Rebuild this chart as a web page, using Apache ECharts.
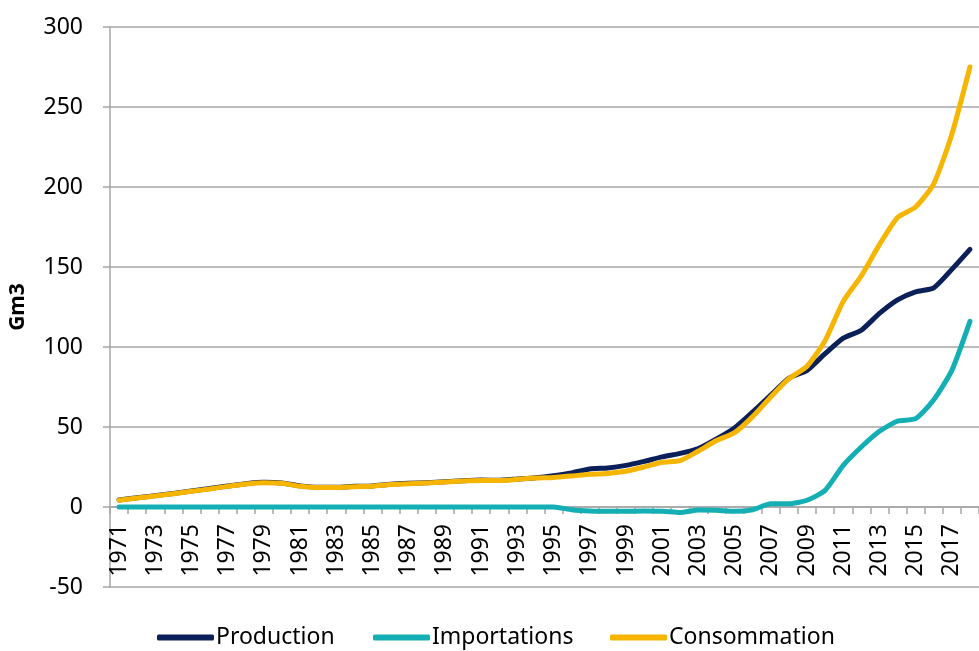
<!DOCTYPE html>
<html>
<head>
<meta charset="utf-8">
<script src="https://cdn.jsdelivr.net/npm/echarts@6/dist/echarts.min.js"></script>
<style>html,body{margin:0;padding:0;background:#fff}#c{width:979px;height:651px}</style>
</head>
<body>
<div id="c"></div>
<script>
const years = [];
for (let y = 1971; y <= 2018; y++) years.push(String(y));

const production = [4.4,5.8,7.1,8.5,10.0,11.5,13.1,14.6,15.4,15.0,13.2,12.4,12.4,12.9,13.2,14.2,14.8,15.2,15.8,16.4,16.8,16.7,17.5,18.3,19.6,21.3,23.8,24.4,26.0,28.5,31.3,33.5,36.5,42.5,49.4,59.4,70.0,80.5,85.4,95.8,105.5,110.5,121.0,129.5,134.5,137.0,148.5,161.0];
const importations = [0,0,0,0,0,0,0,0,0,0,0,0,0,0,0,0,0,0,0,0,0,0,0,0,0,-1.7,-2.5,-2.7,-2.7,-2.5,-2.7,-3.5,-1.8,-2.0,-2.7,-1.7,2.0,2.0,4.2,10.4,26.0,37.5,47.3,53.7,55.2,67.0,85.4,116.0];
const consommation = [4.2,5.6,6.9,8.3,9.8,11.3,12.9,14.4,15.2,14.8,13.0,12.2,12.2,12.7,13.0,14.0,14.6,15.0,15.6,16.2,16.5,16.5,17.3,18.1,18.5,19.4,20.4,21.0,22.3,25.0,28.0,29.0,35.0,41.5,46.5,56.5,68.8,80.2,88.0,104.0,128.5,144.5,164.0,181.0,187.5,202.0,233.0,275.0];

const names = ['Production','Importations','Consommation'];
const colors = ['#0b2058','#13afb4','#f6b500'];
const legendLeft = [157, 373, 610];
const FONT = 'Noto Sans';

const chart = echarts.init(document.getElementById('c'));
const mk = (name, data, color) => ({
  name, type: 'line', data, smooth: 0.2, showSymbol: false, symbol: 'none',
  lineStyle: { width: 5, color, cap: 'round', join: 'round' },
  itemStyle: { color }
});
chart.setOption({
  animation: false,
  textStyle: { fontFamily: FONT },
  grid: { left: 107, top: 27, width: 878, height: 560, containLabel: false },
  legend: names.map((n, i) => ({
    data: [n], left: legendLeft[i], top: 626, padding: 0,
    itemWidth: 57, itemHeight: 6, icon: 'roundRect',
    textStyle: { fontSize: 23, color: '#000', fontFamily: FONT, padding: [0,0,0,-3] }
  })),
  xAxis: {
    type: 'category', data: years, boundaryGap: true, position: 'bottom', offset: -80,
    axisLine: { onZero: false, lineStyle: { color: '#a6a6a6', width: 1.5 } },
    axisTick: { show: true, interval: 0, length: 7, lineStyle: { color: '#a6a6a6', width: 1.5 } },
    axisLabel: { interval: 1, rotate: 90, fontSize: 23, color: '#000', fontFamily: FONT, margin: 17 },
    splitLine: { show: false }
  },
  yAxis: {
    type: 'value', min: -50, max: 300, interval: 50,
    name: 'Gm3', nameLocation: 'middle', nameGap: 81, nameRotate: 90,
    nameTextStyle: { fontSize: 21, fontWeight: 'bold', color: '#000', fontFamily: FONT },
    axisLine: { show: true, lineStyle: { color: '#a6a6a6', width: 1.5 } },
    axisTick: { show: true, length: 7, lineStyle: { color: '#a6a6a6', width: 1.5 } },
    axisLabel: { fontSize: 23, color: '#000', fontFamily: FONT, margin: 27 },
    splitLine: { show: true, lineStyle: { color: '#a6a6a6', width: 1.5 } }
  },
  series: [
    mk(names[0], production, colors[0]),
    mk(names[1], importations, colors[1]),
    mk(names[2], consommation, colors[2])
  ]
});
</script>
</body>
</html>
